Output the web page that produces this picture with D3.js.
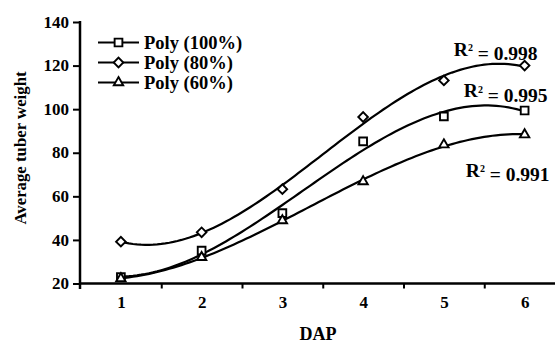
<!DOCTYPE html>
<html>
<head>
<meta charset="utf-8">
<script src="https://cdn.jsdelivr.net/npm/d3@7"></script>
<style>
  body { margin: 0; background: #fff; }
</style>
</head>
<body>
<svg id="chart" width="555" height="343"></svg>
<script>
// values
const dap = [1, 2, 3, 4, 5, 6];
const poly100 = [22.9, 35.1, 52.3, 85.2, 96.7, 99.4];
const poly80 = [39.2, 43.5, 63.3, 96.4, 113.2, 120.0];
const poly60 = [22.3, 32.0, 48.9, 66.8, 83.7, 88.3];
const seriesNames = ['Poly (100%)', 'Poly (80%)', 'Poly (60%)'];
const r2Labels = ['0.998', '0.995', '0.991'];
const yTicks = [20, 40, 60, 80, 100, 120, 140];

const FONT = "'Liberation Serif'";

const series = [
  { name: seriesNames[0], values: poly100, symbol: 'square', r2: r2Labels[1] },
  { name: seriesNames[1], values: poly80, symbol: 'diamond', r2: r2Labels[0] },
  { name: seriesNames[2], values: poly60, symbol: 'triangle', r2: r2Labels[2] }
];

const svg = d3.select('#chart');

const x = d3.scaleLinear().domain([0.5, 6.5]).range([80.5, 565]);
const y = d3.scaleLinear().domain([20, 140]).range([283.5, 22]);

// cubic least squares trendline
function polyFit(xs, ys, order) {
  const n = order + 1;
  const A = Array.from({ length: n }, () => new Array(n + 1).fill(0));
  xs.forEach((xv, k) => {
    for (let i = 0; i < n; i++) {
      for (let j = 0; j < n; j++) A[i][j] += Math.pow(xv, i + j);
      A[i][n] += ys[k] * Math.pow(xv, i);
    }
  });
  for (let c = 0; c < n; c++) {
    let p = c;
    for (let r = c + 1; r < n; r++) if (Math.abs(A[r][c]) > Math.abs(A[p][c])) p = r;
    [A[c], A[p]] = [A[p], A[c]];
    for (let r = 0; r < n; r++) {
      if (r === c) continue;
      const f = A[r][c] / A[c][c];
      for (let j = c; j <= n; j++) A[r][j] -= f * A[c][j];
    }
  }
  return A.map((row, i) => row[n] / row[i]);
}

function symbolPath(type) {
  if (type === 'square') return d3.symbol().type(d3.symbolSquare).size(60)();
  if (type === 'diamond') return d3.symbol().type(d3.symbolSquare).size(46)();
  return d3.symbol().type(d3.symbolTriangle).size(38)();
}
function symbolRotate(type) {
  return type === 'diamond' ? ' rotate(45)' : '';
}

function styleText(sel, size) {
  sel.style('font-family', FONT)
    .style('font-weight', 'bold')
    .style('font-size', size + 'px')
    .attr('fill', '#000');
}

// axes
const yAxis = svg.append('g')
  .attr('transform', 'translate(80,0)')
  .call(d3.axisLeft(y).tickValues(yTicks).tickSize(7).tickPadding(4).tickSizeOuter(0));
yAxis.attr('font-family', null);
yAxis.select('.domain').attr('stroke-width', 2.5).attr('d', 'M0,21V289');
yAxis.selectAll('.tick line').attr('stroke-width', 2);
yAxis.selectAll('.tick text').call(styleText, 17).attr('dy', '0.3em');

const xMarks = svg.append('g')
  .attr('transform', 'translate(0,283.5)')
  .call(d3.axisBottom(x).tickValues([1.5, 2.5, 3.5, 4.5, 5.5]).tickFormat('').tickSize(5).tickSizeOuter(0));
xMarks.select('.domain').attr('stroke-width', 2.5).attr('d', 'M79,0H555');
xMarks.selectAll('.tick line').attr('stroke-width', 2);

const xLabels = svg.append('g')
  .attr('transform', 'translate(0,283.5)')
  .call(d3.axisBottom(x).tickValues(dap).tickFormat(d3.format('d')).tickSize(0).tickPadding(12));
xLabels.attr('font-family', null);
xLabels.select('.domain').remove();
xLabels.selectAll('.tick text').call(styleText, 17);

svg.append('text')
  .attr('x', 318).attr('y', 340)
  .attr('text-anchor', 'middle')
  .call(styleText, 18)
  .text('DAP');

svg.append('text')
  .attr('transform', 'translate(26,148) rotate(-90)')
  .attr('text-anchor', 'middle')
  .call(styleText, 16.8)
  .text('Average tuber weight');

// trendlines
const line = d3.line().x(d => x(d[0])).y(d => y(d[1]));
series.forEach(s => {
  const c = polyFit(dap, s.values, 3);
  const pts = d3.range(0, 101).map(i => {
    const xv = dap[0] + (dap[dap.length - 1] - dap[0]) * i / 100;
    return [xv, c[0] + c[1] * xv + c[2] * xv * xv + c[3] * xv * xv * xv];
  });
  svg.append('path')
    .datum(pts)
    .attr('d', line)
    .attr('fill', 'none')
    .attr('stroke', '#000')
    .attr('stroke-width', 2.2);
});

// markers
series.forEach(s => {
  svg.append('g').selectAll('path')
    .data(s.values)
    .join('path')
    .attr('d', symbolPath(s.symbol))
    .attr('transform', (d, i) => 'translate(' + x(dap[i]) + ',' + y(d) + ')' + symbolRotate(s.symbol))
    .attr('fill', '#fff')
    .attr('stroke', '#000')
    .attr('stroke-width', 1.9);
});

// R² labels
const r2Offsets = { 'Poly (80%)': [13, -10], 'Poly (100%)': [23, -13], 'Poly (60%)': [25, 42] };
series.forEach(s => {
  const last = s.values[s.values.length - 1];
  const off = r2Offsets[s.name];
  const t = svg.append('text')
    .attr('x', x(dap[dap.length - 1]) + off[0])
    .attr('y', y(last) + off[1])
    .attr('text-anchor', 'end')
    .call(styleText, 19.5);
  t.append('tspan').text('R');
  t.append('tspan').attr('dy', '-0.45em').style('font-size', '10px').text('2');
  t.append('tspan').attr('dy', '0.45em').text(' = ' + s.r2);
});

// legend
const legend = svg.append('g').attr('transform', 'translate(98,42.5)');
series.forEach((s, i) => {
  const row = legend.append('g').attr('transform', 'translate(0,' + (i * 20) + ')');
  row.append('line').attr('x1', 0).attr('x2', 41).attr('y1', 0).attr('y2', 0)
    .attr('stroke', '#000').attr('stroke-width', 2.2);
  row.append('path')
    .attr('d', symbolPath(s.symbol))
    .attr('transform', 'translate(20.5,0)' + symbolRotate(s.symbol))
    .attr('fill', '#fff').attr('stroke', '#000').attr('stroke-width', 1.9);
  row.append('text')
    .attr('x', 46).attr('y', 0).attr('dy', '0.35em')
    .call(styleText, 18.5)
    .text(s.name);
});
</script>
</body>
</html>
